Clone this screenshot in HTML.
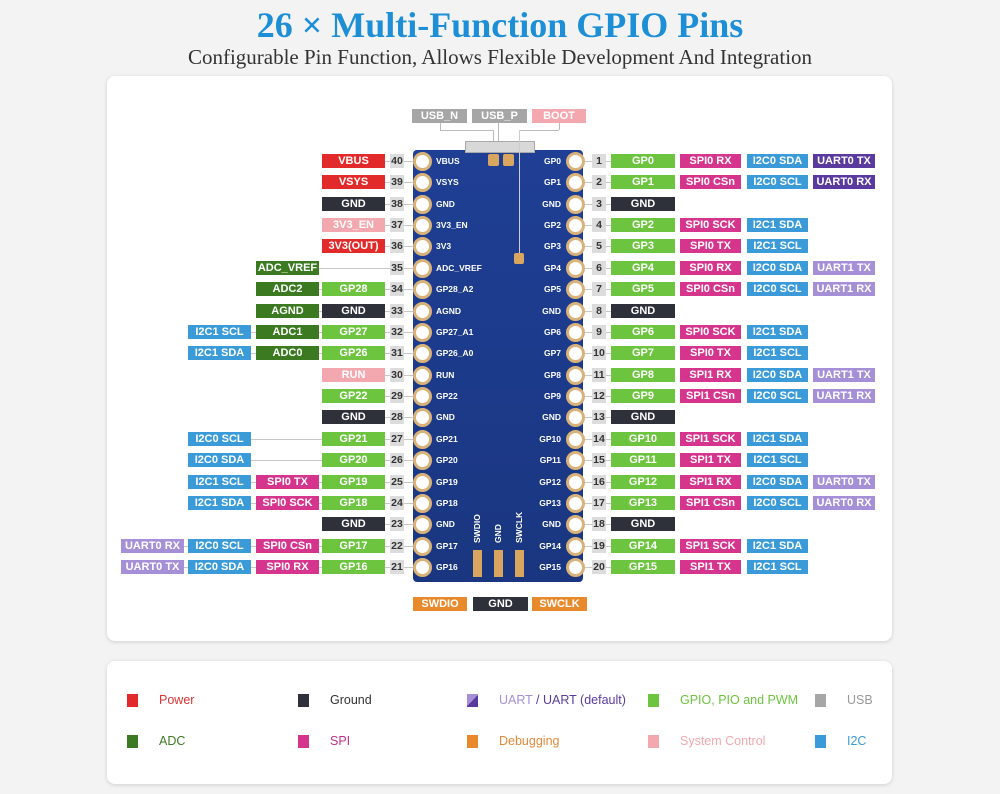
<!DOCTYPE html>
<html><head><meta charset="utf-8"><style>
body{margin:0;width:1000px;height:794px;background:#f3f3f3;position:relative;overflow:hidden;font-family:"Liberation Sans",sans-serif}
.card{position:absolute;left:107px;width:785px;background:#fff;border-radius:8px;box-shadow:0 1px 4px rgba(0,0,0,.15)}
.b{position:absolute;z-index:3;height:14px;line-height:14px;font-size:11px;color:#fff;text-align:center;font-weight:bold;white-space:nowrap;overflow:hidden}
.n{position:absolute;z-index:3;width:14px;height:14px;line-height:14px;font-size:10.5px;color:#333;background:#dcdcdc;text-align:center;font-weight:bold}
.l{position:absolute;z-index:1;height:1px;background:#c8c8c8}
.pl{position:absolute;z-index:3;font-size:8.5px;color:#fff;font-weight:bold;line-height:10px}
.pad{position:absolute;z-index:3;width:13px;height:13px;border-radius:50%;background:#fff;border:3px solid #d9b27a}
.lg{position:absolute;font-size:12.5px}
.sq{position:absolute;width:11px;height:13px}
</style></head><body>
<div style="position:absolute;top:4px;width:1000px;text-align:center;font-family:'Liberation Serif',serif;font-weight:bold;font-size:36px;color:#1d8fd6">26 × Multi-Function GPIO Pins</div>
<div style="position:absolute;top:45px;width:1000px;text-align:center;font-family:'Liberation Serif',serif;font-size:21px;color:#333">Configurable Pin Function, Allows Flexible Development And Integration</div>
<div class="card" style="top:76px;height:565px"></div>
<div class="card" style="top:661px;height:123px"></div>
<div style="position:absolute;z-index:2;left:413px;top:150px;width:170px;height:432px;border-radius:4px;background:linear-gradient(#1f3f95,#1a3680)"></div>
<div style="position:absolute;z-index:2;left:465px;top:141px;width:68px;height:10px;background:#d8d8d8;border:1px solid #aaa"></div>
<div style="position:absolute;z-index:3;left:488px;top:154px;width:11px;height:12px;background:#d9a660;border-radius:2px"></div>
<div style="position:absolute;z-index:3;left:503px;top:154px;width:11px;height:12px;background:#d9a660;border-radius:2px"></div>
<div style="position:absolute;z-index:3;left:514px;top:253px;width:10px;height:11px;background:#d9a660;border-radius:2px"></div>
<div style="position:absolute;z-index:3;left:473px;top:550px;width:9px;height:27px;background:#d9a660"></div>
<div style="position:absolute;z-index:3;left:494px;top:550px;width:9px;height:27px;background:#d9a660"></div>
<div style="position:absolute;z-index:3;left:515px;top:550px;width:9px;height:27px;background:#d9a660"></div>
<div class="pl" style="left:472px;transform:rotate(-90deg);transform-origin:left top;top:543px">SWDIO</div>
<div class="pl" style="left:493px;transform:rotate(-90deg);transform-origin:left top;top:543px">GND</div>
<div class="pl" style="left:514px;top:543px;transform:rotate(-90deg);transform-origin:left top">SWCLK</div>
<div id="e"></div>
<script>
var d=document.getElementById('e'),h='';
var C={r:'#e32a2a',k:'#2e313a',p:'#f2a8ae',G:'#3c7a22',g:'#6cc43f',b:'#3b9bd8',m:'#d6358e',U:'#5a3a9f',u:'#a58fd6',o:'#e88a2c',s:'#a6a6a6'};
function B(x,y,w,c,t){h+='<div class="b" style="left:'+x+'px;top:'+y+'px;width:'+w+'px;background:'+C[c]+'">'+t+'</div>';}
function L(x1,x2,y){h+='<div class="l" style="left:'+x1+'px;width:'+(x2-x1)+'px;top:'+y+'px"></div>';}
var left=[[40,'VBUS',[['r','VBUS']]],[39,'VSYS',[['r','VSYS']]],[38,'GND',[['k','GND']]],[37,'3V3_EN',[['p','3V3_EN']]],[36,'3V3',[['r','3V3(OUT)']]],[35,'ADC_VREF',[null,['G','ADC_VREF']]],[34,'GP28_A2',[['g','GP28'],['G','ADC2']]],[33,'AGND',[['k','GND'],['G','AGND']]],[32,'GP27_A1',[['g','GP27'],['G','ADC1'],['b','I2C1 SCL']]],[31,'GP26_A0',[['g','GP26'],['G','ADC0'],['b','I2C1 SDA']]],[30,'RUN',[['p','RUN']]],[29,'GP22',[['g','GP22']]],[28,'GND',[['k','GND']]],[27,'GP21',[['g','GP21'],null,['b','I2C0 SCL']]],[26,'GP20',[['g','GP20'],null,['b','I2C0 SDA']]],[25,'GP19',[['g','GP19'],['m','SPI0 TX'],['b','I2C1 SCL']]],[24,'GP18',[['g','GP18'],['m','SPI0 SCK'],['b','I2C1 SDA']]],[23,'GND',[['k','GND']]],[22,'GP17',[['g','GP17'],['m','SPI0 CSn'],['b','I2C0 SCL'],['u','UART0 RX']]],[21,'GP16',[['g','GP16'],['m','SPI0 RX'],['b','I2C0 SDA'],['u','UART0 TX']]]];
var right=[['GP0','SPI0 RX','I2C0 SDA','UUART0 TX'],['GP1','SPI0 CSn','I2C0 SCL','UUART0 RX'],['GND'],['GP2','SPI0 SCK','I2C1 SDA'],['GP3','SPI0 TX','I2C1 SCL'],['GP4','SPI0 RX','I2C0 SDA','uUART1 TX'],['GP5','SPI0 CSn','I2C0 SCL','uUART1 RX'],['GND'],['GP6','SPI0 SCK','I2C1 SDA'],['GP7','SPI0 TX','I2C1 SCL'],['GP8','SPI1 RX','I2C0 SDA','uUART1 TX'],['GP9','SPI1 CSn','I2C0 SCL','uUART1 RX'],['GND'],['GP10','SPI1 SCK','I2C1 SDA'],['GP11','SPI1 TX','I2C1 SCL'],['GP12','SPI1 RX','I2C0 SDA','uUART0 TX'],['GP13','SPI1 CSn','I2C0 SCL','uUART0 RX'],['GND'],['GP14','SPI1 SCK','I2C1 SDA'],['GP15','SPI1 TX','I2C1 SCL']];
var lx=[322,256,188,121];
for(var i=0;i<20;i++){var cy=Math.round(161+i*21.37),t=cy-7;
 var r=left[i],c=r[2],last=0;
 for(var j=0;j<c.length;j++){if(c[j]){B(lx[j],t,63,c[j][0],c[j][1]);last=j;}}
 L(lx[last]+63,390,cy);L(403,420,cy);
 h+='<div class="n" style="left:390px;top:'+t+'px">'+r[0]+'</div>';
 h+='<div class="pad" style="left:413px;top:'+(cy-9)+'px"></div>';
 h+='<div class="pl" style="left:436px;top:'+(cy-5)+'px">'+r[1]+'</div>';
 var q=right[i];
 h+='<div class="pad" style="left:566px;top:'+(cy-9)+'px"></div>';
 h+='<div class="pl" style="right:'+(1000-561)+'px;top:'+(cy-5)+'px;text-align:right">'+q[0]+'</div>';
 L(582,592,cy);h+='<div class="n" style="left:592px;top:'+t+'px">'+(i+1)+'</div>';L(606,611,cy);
 B(611,t,64,q[0]=='GND'?'k':'g',q[0]);
 if(q[1])B(680,t,61,'m',q[1]);
 if(q[2])B(747,t,61,'b',q[2]);
 if(q[3])B(813,t,62,q[3][0],q[3].slice(1));
}
B(412,109,55,'s','USB_N');B(472,109,55,'s','USB_P');B(532,109,54,'p','BOOT');
B(413,597,54,'o','SWDIO');B(473,597,55,'k','GND');B(532,597,55,'o','SWCLK');
h+='<div style="position:absolute;left:440px;top:123px;width:1px;height:8px;background:#bbb"></div>';
h+='<div style="position:absolute;left:440px;top:130px;width:53px;height:1px;background:#bbb"></div><div style="position:absolute;left:493px;top:130px;width:1px;height:24px;background:#bbb"></div>';
h+='<div style="position:absolute;left:498px;top:123px;width:1px;height:31px;background:#bbb"></div>';
h+='<div style="position:absolute;left:559px;top:123px;width:1px;height:7px;background:#bbb"></div><div style="position:absolute;left:519px;top:130px;width:40px;height:1px;background:#bbb"></div><div style="position:absolute;z-index:3;left:519px;top:130px;width:1px;height:123px;background:#ccc"></div>';
var lg=[[127,701,'#e32a2a','Power','#d33'],[298,701,'#2e313a','Ground','#333'],[467,701,'linear-gradient(135deg,#a58fd6 50%,#5a3a9f 50%)','<span style="color:#a58fd6">UART</span> / UART (default)','#5a3a9f'],[648,701,'#6cc43f','GPIO, PIO and PWM','#6cc43f'],[815,701,'#a6a6a6','USB','#999'],[127,742,'#3c7a22','ADC','#3c7a22'],[298,742,'#d6358e','SPI','#c0308a'],[467,742,'#e88a2c','Debugging','#e08a3a'],[648,742,'#f2a8ae','System Control','#f0a8ae'],[815,742,'#3b9bd8','I2C','#3b9bd8']];
lg.forEach(function(a){h+='<div class="sq" style="left:'+a[0]+'px;top:'+(a[1]-7)+'px;background:'+a[2]+'"></div><div class="lg" style="left:'+(a[0]+32)+'px;top:'+(a[1]-8)+'px;color:'+a[4]+'">'+a[3]+'</div>';});
d.innerHTML=h;
</script>
</body></html>
